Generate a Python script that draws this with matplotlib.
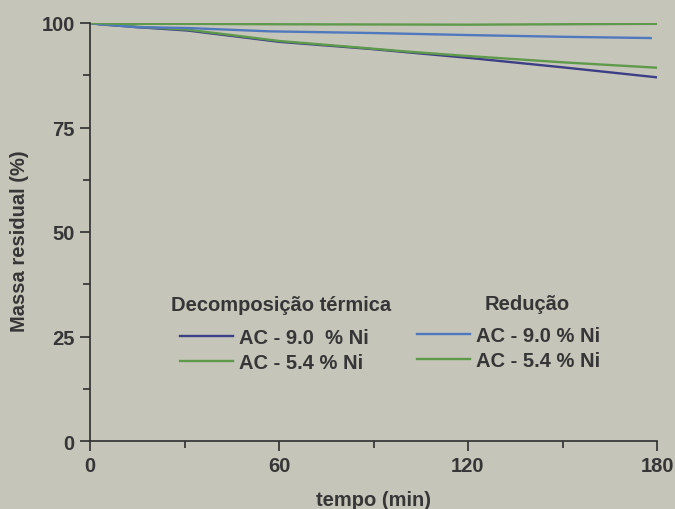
import numpy as np
import matplotlib
matplotlib.use("Agg")
from matplotlib import pyplot as plt
from matplotlib.lines import Line2D

# Curvas de massa residual (%) em função do tempo (min)
t_dec_90 = [0, 3, 6, 10, 15, 31, 44, 60, 89, 121, 150, 180]
m_dec_90 = [100, 99.7, 99.5, 99.3, 99.0, 98.2, 97.0, 95.5, 93.8, 91.6, 89.4, 87.0]

t_dec_54 = [0, 3, 6, 10, 15, 31, 44, 60, 89, 100, 118, 150, 180]
m_dec_54 = [100, 99.8, 99.6, 99.4, 99.1, 98.4, 97.2, 95.7, 93.9, 93.2, 92.2, 90.6, 89.3]

t_red_90 = [0, 3, 6, 10, 15, 31, 57, 90, 121, 150, 178]
m_red_90 = [100, 99.7, 99.6, 99.3, 99.0, 98.8, 98.0, 97.6, 97.1, 96.7, 96.4]

t_red_54 = [0, 5, 10, 30, 60, 120, 150, 180]
m_red_54 = [100, 99.9, 99.8, 99.8, 99.7, 99.6, 99.7, 99.8]

rotulos = ['AC - 9.0  % Ni', 'AC - 5.4 % Ni']
rotulos_red = ['AC - 9.0 % Ni', 'AC - 5.4 % Ni']

fundo = '#c6c5ba'
texto = '#363636'
azul_escuro = '#3d3f86'
azul_claro = '#5079bd'
verde = '#5f9a4c'

plt.rcParams['font.family'] = ['Liberation Sans', 'DejaVu Sans']
plt.rcParams['font.weight'] = 'bold'

fig = plt.figure(figsize=(6.75, 5.1), dpi=100, facecolor=fundo)
ax = fig.add_axes([90/675, 1-442/510, 567/675, 418/510])
ax.set_facecolor(fundo)

ax.plot(t_dec_90, m_dec_90, color=azul_escuro, lw=1.7)
ax.plot(t_dec_54, m_dec_54, color=verde, lw=1.7)
ax.plot(t_red_90, m_red_90, color=azul_claro, lw=1.7)
ax.plot(t_red_54, m_red_54, color=verde, lw=1.7)

ax.set_xlim(0, 180)
ax.set_ylim(0, 100)
ax.set_xticks([0, 60, 120, 180])
ax.set_xticks([30, 90, 150], minor=True)
ax.set_yticks([0, 25, 50, 75, 100])
ax.set_yticks([12.5, 37.5, 62.5, 87.5], minor=True)

for s in ['top', 'right']:
    ax.spines[s].set_visible(False)
for s in ['left', 'bottom']:
    ax.spines[s].set_color('#2e2e2e')
    ax.spines[s].set_linewidth(1.2)

ax.tick_params(which='major', length=7, width=1.2, color='#2e2e2e',
               labelsize=14.5, labelcolor=texto, pad=4)
ax.tick_params(which='minor', length=5, width=1.2, color='#2e2e2e')

ax.set_xlabel('tempo (min)', fontsize=14.5, color=texto, fontweight='bold')
ax.set_ylabel('Massa residual (%)', fontsize=14.5, color=texto, fontweight='bold')
ax.xaxis.set_label_coords(0.5, -0.118)
ax.yaxis.set_label_coords(-0.108, 0.48)

# legendas das duas séries de ensaios
h_dec = [Line2D([], [], color=azul_escuro, lw=1.7), Line2D([], [], color=verde, lw=1.7)]
h_red = [Line2D([], [], color=azul_claro, lw=1.7), Line2D([], [], color=verde, lw=1.7)]

opts = dict(frameon=False, fontsize=14.5, handlelength=2.65, handletextpad=0.3,
            labelspacing=0.3, borderpad=0, borderaxespad=0, loc='upper left',
            bbox_transform=fig.transFigure, labelcolor=texto)
leg1 = ax.legend(h_dec, rotulos, bbox_to_anchor=(180/675, 1-329/510), **opts)
ax.add_artist(leg1)
ax.legend(h_red, rotulos_red, bbox_to_anchor=(417/675, 1-327/510), **opts)

fig.text(171/675, 1-306/510, 'Decomposição térmica', fontsize=14.5, color=texto,
         fontweight='bold', va='center', ha='left')
fig.text(485/675, 1-304/510, 'Redução', fontsize=14.5, color=texto,
         fontweight='bold', va='center', ha='left')

fig.savefig('out.png', dpi=100, facecolor=fundo)
